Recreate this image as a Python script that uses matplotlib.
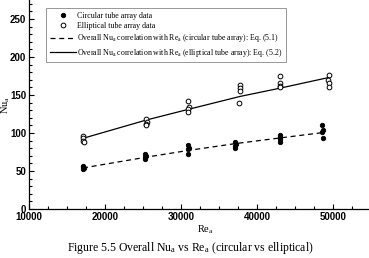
import matplotlib
matplotlib.use("Agg")
import matplotlib.pyplot as plt
from matplotlib.ticker import MultipleLocator

plt.rcParams['font.family'] = ['Liberation Sans']
plt.rcParams['font.weight'] = 'bold'
plt.rcParams['mathtext.fontset'] = 'custom'
plt.rcParams['mathtext.rm'] = 'Liberation Serif:normal'
plt.rcParams['mathtext.it'] = 'Liberation Serif:italic:normal'
plt.rcParams['mathtext.bf'] = 'Liberation Serif:bold'

# Circular tube array data
circ_re = [17100, 17150, 17200, 17100,
           25300, 25350, 25250, 25300,
           30900, 31000, 30950, 30900,
           37100, 37150, 37100, 37050,
           43000, 43050, 42950, 43000,
           48500, 48600, 48550, 48600]
circ_nu = [57, 55, 54, 52,
           72, 70, 68, 66,
           84, 80, 79, 72,
           88, 85, 83, 80,
           97, 95, 92, 88,
           110, 104, 101, 93]

# Elliptical tube array data
ell_re = [17100, 17150, 17100, 17200,
          25400, 25450, 25350, 25400,
          30900, 31000, 30950, 30900,
          37800, 37700, 37750, 37650,
          43000, 43050, 42950, 43000,
          49500, 49300, 49400, 49450]
ell_nu = [96, 93, 90, 88,
          118, 115, 112, 110,
          142, 134, 131, 127,
          163, 159, 155, 139,
          175, 166, 162, 160,
          176, 170, 166, 160]

# Correlation curves
fit_circ_re = [17100, 25300, 30900, 37100, 43000, 48600]
fit_circ_nu = [54, 68, 77, 86, 93.5, 100.5]
fit_ell_re = [17100, 25400, 30900, 37700, 43000, 49400]
fit_ell_nu = [93, 117, 131, 148, 159, 173]

W, H = 369, 258
fig = plt.figure(figsize=(W / 100, H / 100), dpi=100)
ax = fig.add_axes([29 / W, 49 / H, 340 / W, 209 / H])

ax.plot(fit_circ_re, fit_circ_nu, ls=(0, (4, 3)), color='black', lw=0.9,
        label=r'Overall Nu$_\mathrm{a}$ correlation with Re$_\mathrm{a}$ (circular tube array): Eq. (5.1)')
ax.plot(fit_ell_re, fit_ell_nu, ls='-', color='black', lw=0.9,
        label=r'Overall Nu$_\mathrm{a}$ correlation with Re$_\mathrm{a}$ (elliptical tube array): Eq. (5.2)')
ax.plot(circ_re, circ_nu, ls='none', marker='o', ms=3.2, mfc='black', mec='black',
        mew=0.6, label='Circular tube array data')
ax.plot(ell_re, ell_nu, ls='none', marker='o', ms=3.4, mfc='white', mec='black',
        mew=0.7, label='Elliptical tube array data')

ax.set_xlim(10000, 54700)
ax.set_ylim(0, 275)
ax.xaxis.set_major_locator(MultipleLocator(10000))
ax.xaxis.set_minor_locator(MultipleLocator(2500))
ax.yaxis.set_major_locator(MultipleLocator(50))
ax.yaxis.set_minor_locator(MultipleLocator(10))
ax.tick_params(which='both', direction='in', width=0.8)
ax.tick_params(which='major', length=3.5)
ax.tick_params(which='minor', length=2)
ax.tick_params(labelsize=7, pad=2)
for s in ['top', 'right']:
    ax.spines[s].set_visible(False)
for s in ['left', 'bottom']:
    ax.spines[s].set_linewidth(0.9)

fig.text(205 / W, 1 - 230 / H, r'Re$_\mathrm{a}$', ha='center', va='center',
         family='Liberation Serif', fontweight='normal', fontsize=7.5)
fig.text(6 / W, 1 - 105 / H, r'Nu$_\mathrm{a}$', ha='center', va='center',
         family='Liberation Serif', fontweight='normal', fontsize=7.5, rotation=90)
fig.text(190 / W, 1 - 248 / H,
         r'Figure 5.5 Overall Nu$_\mathrm{a}$ vs Re$_\mathrm{a}$ (circular vs elliptical)',
         ha='center', va='center', family='Liberation Serif', fontweight='normal',
         fontsize=8.5)

handles, labels = ax.get_legend_handles_labels()
order = [2, 3, 0, 1]
leg = fig.legend([handles[i] for i in order], [labels[i] for i in order],
                 loc='upper left', bbox_to_anchor=(46 / W, 1 - 8 / H),
                 prop={'family': 'Liberation Serif', 'size': 5.7, 'weight': 'normal'},
                 frameon=True, fancybox=False, edgecolor='#888888',
                 handlelength=3.3, handletextpad=0.2, borderpad=0.45,
                 labelspacing=0.3, borderaxespad=0, framealpha=1)
leg.get_frame().set_linewidth(0.6)

fig.savefig('out.png', dpi=100)
